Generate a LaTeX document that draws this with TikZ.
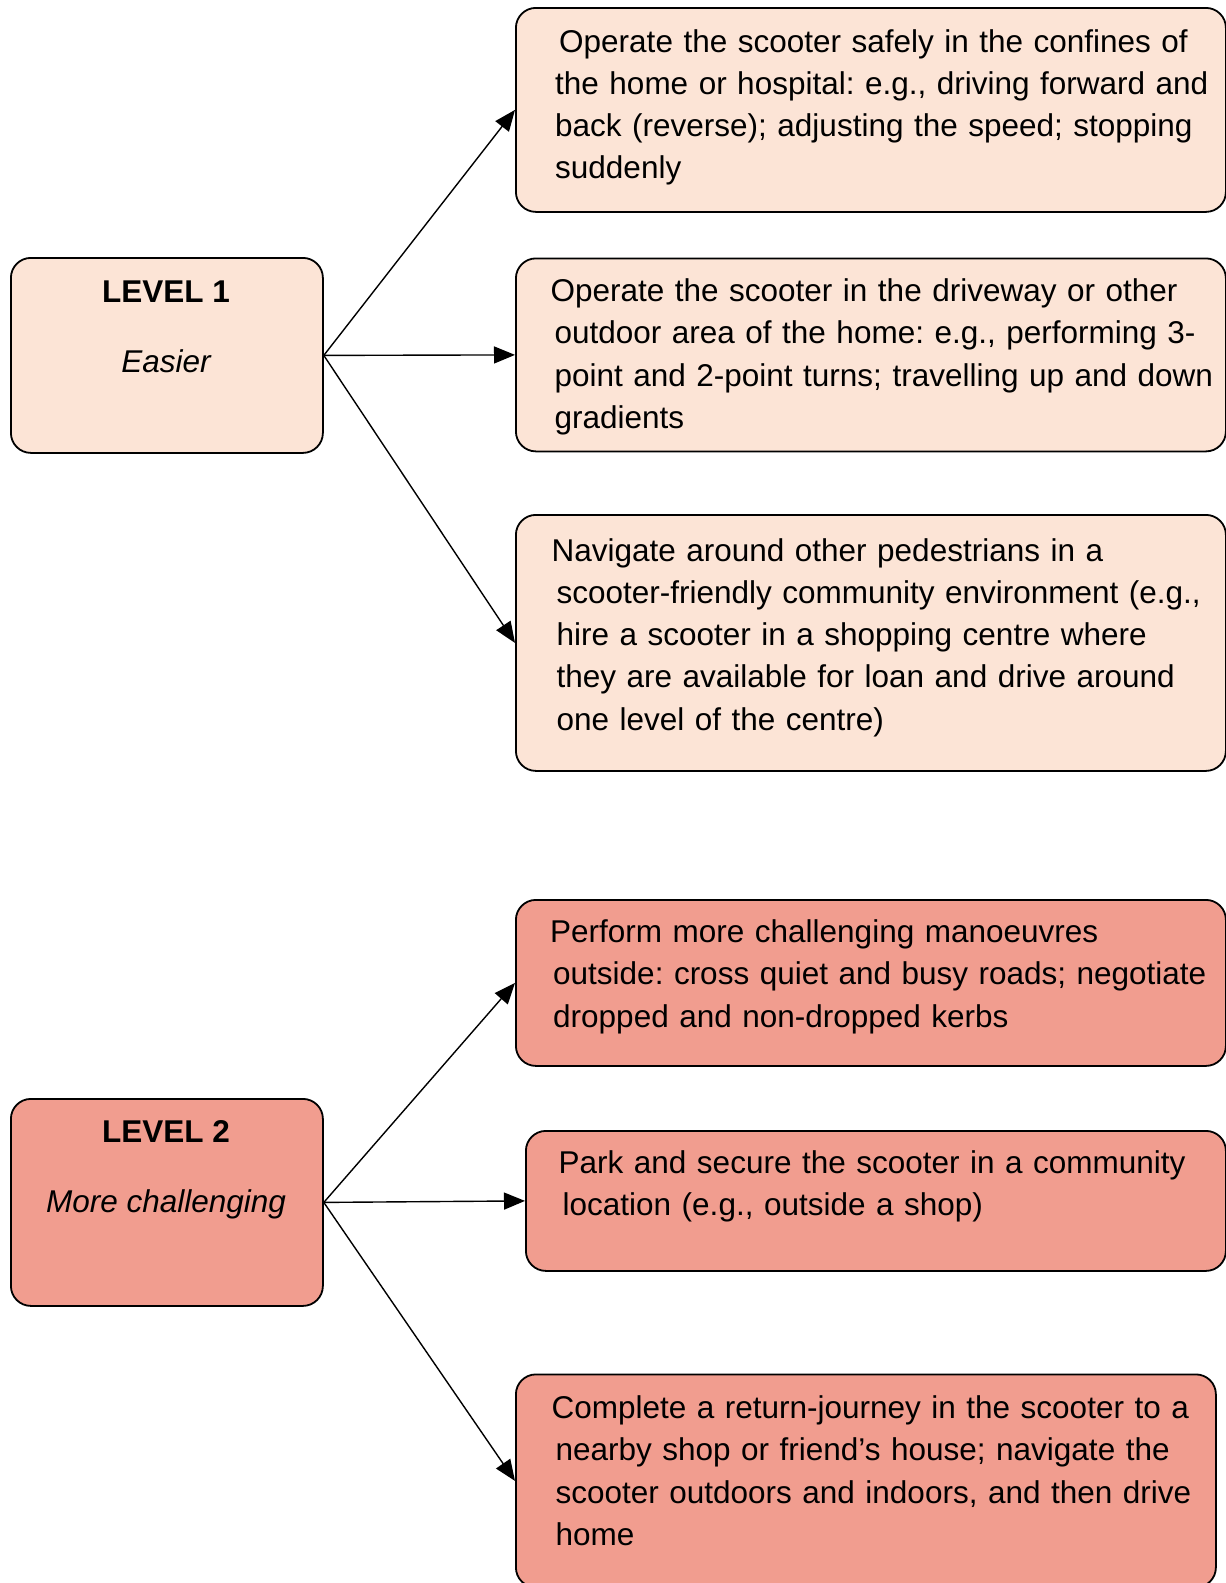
\documentclass[tikz,border=0pt]{standalone}
\usepackage{fontspec}
\setmainfont{Liberation Sans}
\usetikzlibrary{arrows.meta}
\frenchspacing
\definecolor{easyfill}{HTML}{FCE4D6}
\definecolor{hardfill}{HTML}{F19D8F}
\tikzset{
  card/.style={draw=black, line width=1.8pt, rounded corners=20pt, inner sep=0pt, anchor=north west},
  easy/.style={card, fill=easyfill},
  hard/.style={card, fill=hardfill},
  body/.style={anchor=base west, inner sep=0pt, text width=690pt, align=left,
               font=\fontsize{31.5}{42.3}\selectfont},
  head/.style={anchor=base, inner sep=0pt, font=\fontsize{31.5}{38}\selectfont},
  link/.style={line width=1.4pt, -{Triangle[length=21pt,width=17pt]}}
}
\begin{document}
\begin{tikzpicture}[x=1pt,y=-1pt]
\useasboundingbox (0,0) rectangle (1226,1583);

% ---------- Level 1 ----------
\node[easy, minimum width=312pt, minimum height=195pt] (L1) at (10,257) {};
\node[head, font=\fontsize{31.5}{38}\selectfont\bfseries] (L1a) at (166,302) {LEVEL 1};
\node[head, font=\fontsize{31.5}{38}\selectfont\itshape] (L1b) at (166,372) {Easier};

\node[easy, minimum width=710pt, minimum height=204pt] (A1) at (515,7) {};
\node[body] (A1t) at (555,52) {\hspace*{4pt}Operate the scooter safely in the confines of\\
the home or hospital: e.g., driving forward and\\
back (reverse); adjusting the speed; stopping\\
suddenly};

\node[easy, minimum width=710pt, minimum height=193pt] (A2) at (515,257.5) {};
\node[body] (A2t) at (554.4,301.5) {\hspace*{-4pt}Operate the scooter in the driveway or other\\
outdoor area of the home: e.g., performing 3-\\
point and 2-point turns; travelling up and down\\
gradients};

\node[easy, minimum width=710pt, minimum height=256pt] (A3) at (515,514) {};
\node[body] (A3t) at (556.4,561) {\hspace*{-5pt}Navigate around other pedestrians in a\\
scooter-friendly community environment (e.g.,\\
hire a scooter in a shopping centre where\\
they are available for loan and drive around\\
one level of the centre)};

\draw[link] (L1.east) -- (A1.west);
\draw[link] (L1.east) -- (A2.west);
\draw[link] (L1.east) -- (A3.west);

% ---------- Level 2 ----------
\node[hard, minimum width=312pt, minimum height=207pt] (L2) at (10,1098) {};
\node[head, font=\fontsize{31.5}{38}\selectfont\bfseries] (L2a) at (166,1142.7) {LEVEL 2};
\node[head, font=\fontsize{31.5}{38}\selectfont\itshape] (L2b) at (166,1212.7) {More challenging};

\node[hard, minimum width=710pt, minimum height=166pt] (B1) at (515,899) {};
\node[body] (B1t) at (553,942.5) {\hspace*{-3pt}Perform more challenging manoeuvres\\
outside: cross quiet and busy roads; negotiate\\
dropped and non-dropped kerbs};

\node[hard, minimum width=700pt, minimum height=140pt] (B2) at (525,1130) {};
\node[body] (B2t) at (562.5,1173) {\hspace*{-4pt}Park and secure the scooter in a community\\
location (e.g., outside a shop)};

\node[hard, minimum width=700pt, minimum height=213pt] (B3) at (515,1373.5) {};
\node[body] (B3t) at (555.4,1418.4) {\hspace*{-4pt}Complete a return-journey in the scooter to a\\
nearby shop or friend’s house; navigate the\\
scooter outdoors and indoors, and then drive\\
home};

\draw[link] (L2.east) -- (B1.west);
\draw[link] (L2.east) -- (B2.west);
\draw[link] (L2.east) -- (B3.west);
\end{tikzpicture}
\end{document}
